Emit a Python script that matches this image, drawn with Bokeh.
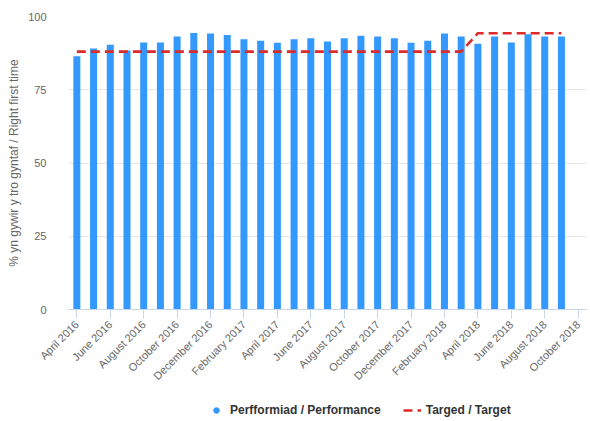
import math
from bokeh.plotting import figure
from bokeh.layouts import column
from bokeh.models import (ColumnDataSource, FixedTicker, Legend, LegendItem, Range1d)
from bokeh.embed import file_html
from bokeh.resources import INLINE

months = ["April 2016", "May 2016", "June 2016", "July 2016", "August 2016", "September 2016",
          "October 2016", "November 2016", "December 2016", "January 2017", "February 2017",
          "March 2017", "April 2017", "May 2017", "June 2017", "July 2017", "August 2017",
          "September 2017", "October 2017", "November 2017", "December 2017", "January 2018",
          "February 2018", "March 2018", "April 2018", "May 2018", "June 2018", "July 2018",
          "August 2018", "September 2018", "October 2018"]

performance = [86.4, 89.1, 90.4, 88.4, 91.1, 91.1, 93.2, 94.4, 94.2, 93.7,
               92.2, 91.7, 91.0, 92.2, 92.6, 91.5, 92.6, 93.4, 93.2, 92.6,
               91.0, 91.7, 94.2, 93.2, 90.7, 93.2, 91.1, 93.9, 93.2, 93.2]

target = [88.0] * 24 + [94.3] * 6

y_ticks = [0, 25, 50, 75, 100]

series_names = ["Perfformiad / Performance", "Targed / Target"]

FONT = "Liberation Sans"
BAR_COLOR = "#3399ff"
LINE_COLOR = "#dd2b2b"

idx = list(range(len(performance)))
src = ColumnDataSource(dict(x=idx, perf=performance, target=target))

p = figure(width=588, height=389, output_backend="svg", toolbar_location=None,
           x_range=Range1d(-0.5, len(months) - 0.5), y_range=Range1d(0, 100),
           min_border_left=68, min_border_right=2, min_border_top=16, min_border_bottom=80)
p.outline_line_color = None
p.background_fill_color = "white"
p.border_fill_color = "white"

p.vbar(x="x", top="perf", width=0.42, source=src, color=BAR_COLOR, line_color=None)
p.line(x="x", y="target", source=src, line_color=LINE_COLOR, line_width=2.6, line_dash="9 5")

# axes
p.xaxis.ticker = FixedTicker(ticks=list(range(0, len(months), 2)))
p.xaxis.major_label_overrides = {i: months[i] for i in range(0, len(months), 2)}
p.xaxis.major_label_orientation = math.pi / 4
p.xaxis.axis_line_color = "#ccd6eb"
p.xaxis.major_tick_line_color = "#ccd6eb"
p.xaxis.major_tick_out = 9
p.xaxis.major_tick_in = 0
p.xaxis.minor_tick_line_color = None
p.xaxis.major_label_text_font = FONT
p.xaxis.major_label_text_font_size = "11px"
p.xaxis.major_label_text_color = "#666666"
p.xaxis.major_label_standoff = 4

p.yaxis.ticker = FixedTicker(ticks=y_ticks)
p.yaxis.axis_line_color = None
p.yaxis.major_tick_line_color = None
p.yaxis.minor_tick_line_color = None
p.yaxis.major_label_text_font = FONT
p.yaxis.major_label_text_font_size = "11px"
p.yaxis.major_label_text_color = "#666666"
p.yaxis.major_label_standoff = 16
p.yaxis.axis_label = "% yn gywir y tro gyntaf / Right first time"
p.yaxis.axis_label_text_font = FONT
p.yaxis.axis_label_text_font_size = "12px"
p.yaxis.axis_label_text_font_style = "normal"
p.yaxis.axis_label_text_color = "#666666"
p.yaxis.axis_label_standoff = 4

p.xgrid.grid_line_color = None
p.ygrid.grid_line_color = "#e6e6e6"
p.ygrid.ticker = FixedTicker(ticks=y_ticks)

# legend strip below the chart
lg = figure(width=588, height=32, output_backend="svg", toolbar_location=None,
            x_range=Range1d(0, 1), y_range=Range1d(0, 1),
            x_axis_location=None, y_axis_location=None, min_border=0)
lg.outline_line_color = None
lg.grid.grid_line_color = None
lg.background_fill_color = "white"
lg.border_fill_color = "white"
dot = lg.scatter(x=[-10], y=[-10], size=13, marker="circle", color=BAR_COLOR)
dash = lg.line(x=[-10, -9], y=[-10, -10], line_color=LINE_COLOR, line_width=2.6,
               line_dash="9 5")

legend = Legend(items=[LegendItem(label=series_names[0], renderers=[dot]),
                       LegendItem(label=series_names[1], renderers=[dash])],
                orientation="horizontal", location=(139, 4))
legend.label_text_font = FONT
legend.label_text_font_size = "12px"
legend.label_text_font_style = "bold"
legend.label_text_color = "#333333"
legend.border_line_color = None
legend.background_fill_alpha = 0
legend.glyph_width = 18
legend.glyph_height = 14
legend.label_height = 14
legend.label_standoff = 5
legend.spacing = 22
legend.margin = 0
legend.padding = 0
lg.add_layout(legend, "center")

layout = column(p, lg, spacing=0)

open("out.html", "w").write(file_html(layout, INLINE))
